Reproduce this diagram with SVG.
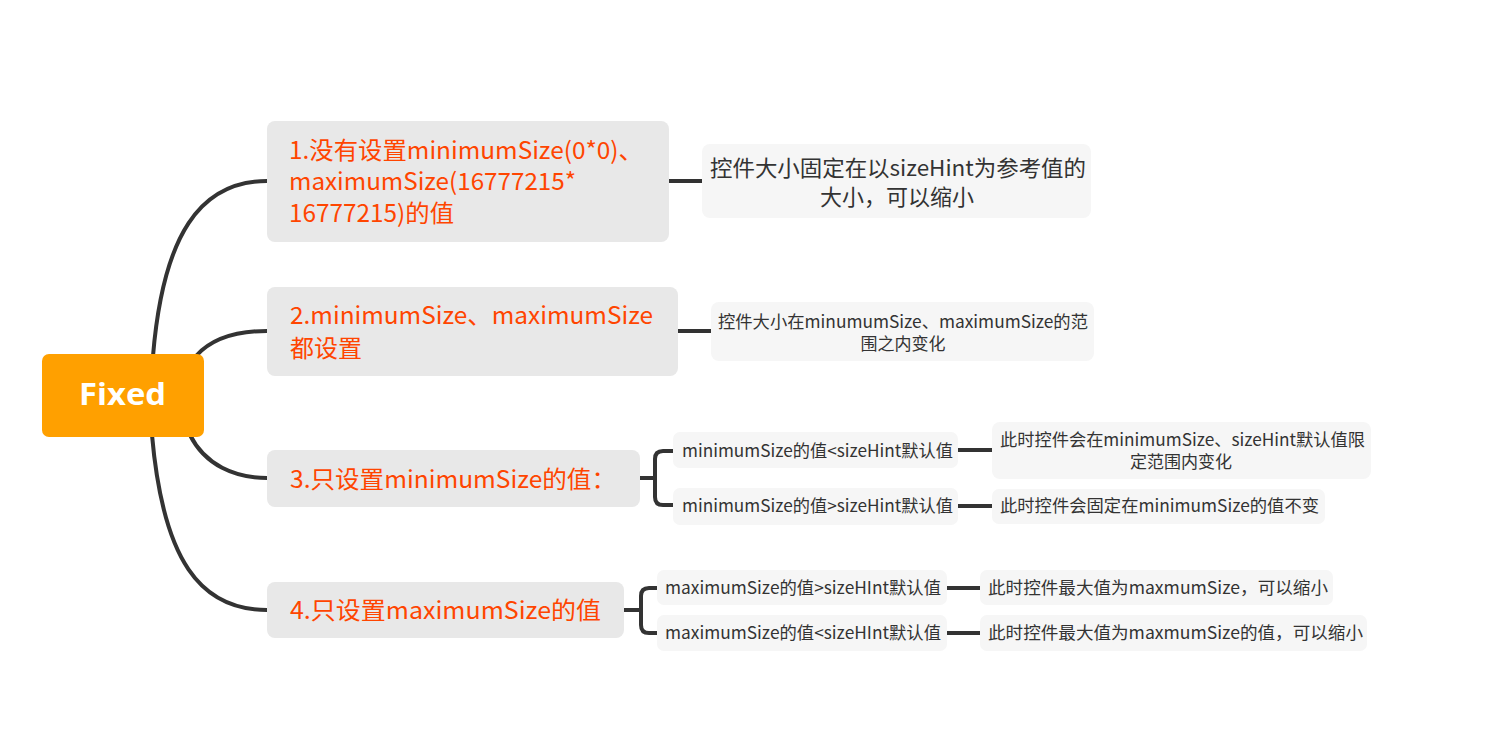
<svg xmlns="http://www.w3.org/2000/svg" width="1489" height="753" viewBox="0 0 1489 753">
<style>
.main{fill:#E8E8E8}
.sub{fill:#F6F6F6}
.t1{font-family:"Noto Sans CJK SC","Noto Sans",sans-serif;font-size:24px;fill:#FF4500}
.t2{font-family:"Noto Sans CJK SC","Noto Sans",sans-serif;fill:#333333}
.s{font-size:17px}
.conn{fill:none;stroke:#333333;stroke-width:4;stroke-linecap:round}
</style>
<rect width="1489" height="753" fill="#FFFFFF"/>
<g id="connectors" class="conn">
<path d="M153,356 C163,235 200,181 267,181"/>
<path d="M196,356 C213,337 238,331 267,331"/>
<path d="M190,435 C205,465 235,478 267,478"/>
<path d="M152,435 C163,560 200,610 267,610"/>
<path d="M669,181 H702"/>
<path d="M678,331 H711"/>
<path d="M640,478 H655 M673,451 H663 Q655,451 655,459 V497 Q655,505 663,505 H673"/>
<path d="M624,610 H641 M657,588 H649 Q641,588 641,596 V625 Q641,633 649,633 H657"/>
<path d="M958,450 H992"/>
<path d="M958,506 H992"/>
<path d="M947,588 H980"/>
<path d="M947,633 H980"/>
</g>
<g id="root">
<rect x="42" y="354" width="162" height="83" rx="7" fill="#FFA000"/>
<text x="79" y="405" textLength="87" lengthAdjust="spacingAndGlyphs" font-family="'Open Sans','Noto Sans',sans-serif" font-weight="bold" font-size="31" fill="#FFFFFF">Fixed</text>
</g>
<g id="n1">
<rect class="main" x="267" y="121" width="402" height="121" rx="8"/>
<text class="t1" x="289" y="159" textLength="354" lengthAdjust="spacingAndGlyphs">1.没有设置minimumSize(0*0)、</text>
<text class="t1" x="289" y="190" textLength="287" lengthAdjust="spacingAndGlyphs">maximumSize(16777215*</text>
<text class="t1" x="289" y="222" textLength="165" lengthAdjust="spacingAndGlyphs">16777215)的值</text>
</g>
<g id="n2">
<rect class="main" x="267" y="287" width="411" height="89" rx="8"/>
<text class="t1" x="290" y="324" textLength="363" lengthAdjust="spacingAndGlyphs">2.minimumSize、maximumSize</text>
<text class="t1" x="290" y="357">都设置</text>
</g>
<g id="n3">
<rect class="main" x="267" y="450" width="373" height="57" rx="8"/>
<text class="t1" x="290" y="488" textLength="326" lengthAdjust="spacingAndGlyphs">3.只设置minimumSize的值：</text>
</g>
<g id="n4">
<rect class="main" x="267" y="582" width="357" height="56" rx="8"/>
<text class="t1" x="290" y="619" textLength="311" lengthAdjust="spacingAndGlyphs">4.只设置maximumSize的值</text>
</g>
<g id="r1">
<rect class="sub" x="702" y="144" width="389" height="74" rx="8"/>
<text class="t2" x="710" y="176" textLength="376" lengthAdjust="spacingAndGlyphs" font-size="22">控件大小固定在以sizeHint为参考值的</text>
<text class="t2" x="897" y="205" text-anchor="middle" font-size="22">大小，可以缩小</text>
</g>
<g id="r2">
<rect class="sub" x="711" y="302" width="383" height="59" rx="8"/>
<text class="t2 s" x="718" y="328" textLength="370" lengthAdjust="spacingAndGlyphs">控件大小在minumumSize、maximumSize的范</text>
<text class="t2 s" x="903" y="350" text-anchor="middle">围之内变化</text>
</g>
<g id="c3a">
<rect class="sub" x="673" y="432" width="285" height="36" rx="7"/>
<text class="t2 s" x="682" y="457" textLength="271" lengthAdjust="spacingAndGlyphs">minimumSize的值&lt;sizeHint默认值</text>
</g>
<g id="c3b">
<rect class="sub" x="673" y="488" width="285" height="37" rx="7"/>
<text class="t2 s" x="682" y="512" textLength="271" lengthAdjust="spacingAndGlyphs">minimumSize的值&gt;sizeHint默认值</text>
</g>
<g id="d3a">
<rect class="sub" x="992" y="422" width="379" height="57" rx="8"/>
<text class="t2 s" x="1000" y="446" textLength="365" lengthAdjust="spacingAndGlyphs">此时控件会在minimumSize、sizeHint默认值限</text>
<text class="t2 s" x="1181" y="468" text-anchor="middle">定范围内变化</text>
</g>
<g id="d3b">
<rect class="sub" x="992" y="489" width="333" height="35" rx="7"/>
<text class="t2 s" x="1000" y="512" textLength="319" lengthAdjust="spacingAndGlyphs">此时控件会固定在minimumSize的值不变</text>
</g>
<g id="c4a">
<rect class="sub" x="657" y="570" width="290" height="35" rx="7"/>
<text class="t2 s" x="665" y="594" textLength="276" lengthAdjust="spacingAndGlyphs">maximumSize的值&gt;sizeHInt默认值</text>
</g>
<g id="c4b">
<rect class="sub" x="657" y="615" width="290" height="36" rx="7"/>
<text class="t2 s" x="665" y="639" textLength="276" lengthAdjust="spacingAndGlyphs">maximumSize的值&lt;sizeHInt默认值</text>
</g>
<g id="d4a">
<rect class="sub" x="980" y="570" width="353" height="35" rx="7"/>
<text class="t2 s" x="988" y="594" textLength="340" lengthAdjust="spacingAndGlyphs">此时控件最大值为maxmumSize，可以缩小</text>
</g>
<g id="d4b">
<rect class="sub" x="980" y="615" width="387" height="36" rx="7"/>
<text class="t2 s" x="988" y="639" textLength="375" lengthAdjust="spacingAndGlyphs">此时控件最大值为maxmumSize的值，可以缩小</text>
</g>
</svg>
